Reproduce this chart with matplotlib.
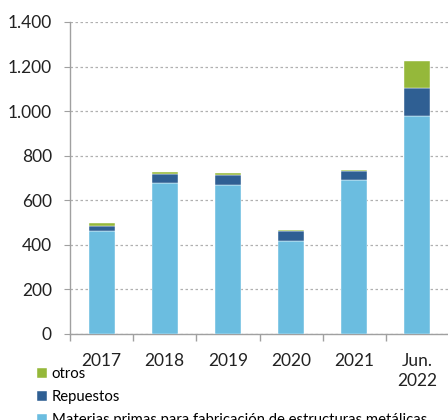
import matplotlib
matplotlib.use('Agg')
import matplotlib.pyplot as plt
from matplotlib.ticker import FuncFormatter, FixedLocator
import numpy as np

# datos (millones)
categorias = ['2017', '2018', '2019', '2020', '2021', 'Jun.\n2022']
materias = [461, 679, 668, 417, 690, 978]
repuestos = [25, 39, 44, 44, 43, 127]
otros = [13, 9, 9, 6, 3, 118]

c_mat = '#6BBDE0'
c_rep = '#2F5F93'
c_otr = '#95B83A'

plt.rcParams['font.family'] = ['Lato', 'DejaVu Sans']

fig = plt.figure(figsize=(4.48, 4.2), dpi=100)
ax = fig.add_axes([70/448, 86/420, 379/448, 312/420])

x = np.arange(len(categorias))
w = 0.41
b1 = ax.bar(x, materias, w, color=c_mat, edgecolor='white', linewidth=0.3,
            label='Materias primas para fabricación de estructuras metálicas', zorder=3)
bot = np.array(materias)
b2 = ax.bar(x, repuestos, w, bottom=bot, color=c_rep, edgecolor='white', linewidth=0.3,
            label='Repuestos', zorder=3)
bot = bot + np.array(repuestos)
b3 = ax.bar(x, otros, w, bottom=bot, color=c_otr, edgecolor='white', linewidth=0.3,
            label='otros', zorder=3)

ax.set_xlim(-0.5, len(categorias) - 0.5)
ax.set_ylim(0, 1400)
ax.set_yticks(range(0, 1401, 200))
ax.yaxis.set_major_formatter(FuncFormatter(lambda v, p: f'{int(v):,}'.replace(',', '.')))
ax.yaxis.grid(True, color='#B0B0B0', linestyle=(0, (2, 2)), linewidth=0.9, zorder=0)

ax.set_xticks(x)
ax.set_xticklabels(categorias, linespacing=1.25)
ax.xaxis.set_minor_locator(FixedLocator(np.arange(-0.5, len(categorias), 1)))
ax.tick_params(axis='x', which='major', length=0, pad=14, labelsize=12.5, colors='#222222')
ax.tick_params(axis='x', which='minor', length=5, color='#A0A0A0', width=1)
ax.tick_params(axis='y', length=4, color='#A0A0A0', pad=9, labelsize=12.5, labelcolor='#222222')

for s in ['top', 'right']:
    ax.spines[s].set_visible(False)
for s in ['left', 'bottom']:
    ax.spines[s].set_color('#A0A0A0')
    ax.spines[s].set_linewidth(1)

fig.legend(handles=[b3, b2, b1], loc='upper left', bbox_to_anchor=(37/448, 1 - 367/420),
           frameon=False, fontsize=10.7, handlelength=0.7, handleheight=0.7,
           handletextpad=0.3, labelspacing=0.62, borderaxespad=0, borderpad=0)

fig.savefig('out.png', dpi=100)
